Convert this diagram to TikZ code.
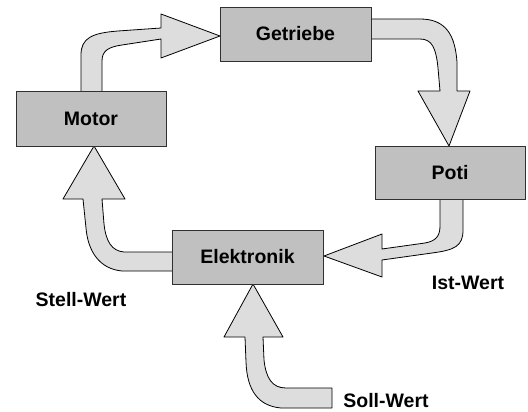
\documentclass[tikz,border=0pt]{standalone}
\usepackage{fontspec}
\setmainfont{Liberation Sans}
\definecolor{boxgray}{HTML}{C0C0C0}
\definecolor{arrowgray}{HTML}{DDDDDD}
\definecolor{edgegray}{HTML}{303030}
\tikzset{
  block/.style={draw=edgegray, line width=0.9pt, fill=boxgray, minimum width=150pt,
    minimum height=54pt, inner sep=0pt, font=\fontsize{19.5}{22}\selectfont\bfseries},
  blockarrow/.style={draw=black, line width=0.8pt, fill=arrowgray, line join=round},
  lbl/.style={font=\fontsize{19.5}{22}\selectfont\bfseries, inner sep=0pt}
}
\begin{document}
\begin{tikzpicture}[x=1pt,y=-1pt]
\useasboundingbox (0,0) rectangle (528,412);
\fill[white] (0,0) rectangle (528,412);

% tips of the broad arrows
\coordinate (tipA) at (220,36);
\coordinate (tipB) at (449,146);
\coordinate (tipC) at (324,256);
\coordinate (tipD) at (94,146);
\coordinate (tipE) at (253,284);

% Motor -> Getriebe
\draw[blockarrow] (81,93) -- (81,55) .. controls (81,38) and (92,33) .. (118,31)
  -- (161,28) -- (161,14) -- (tipA) -- (161,58) -- (161,39) -- (122,45)
  .. controls (108,47) and (102,51) .. (102,61) -- (102,93) -- cycle;
% Getriebe -> Poti
\draw[blockarrow] (369,19) -- (420,19) .. controls (446,19) and (455,35) .. (457,62)
  -- (457,91) -- (470,91) -- (tipB) -- (418,91) -- (440,91) -- (438,68)
  .. controls (436,48) and (432,39) .. (420,39) -- (369,39) -- cycle;
% Poti -> Elektronik
\draw[blockarrow] (463,197) -- (463,230) .. controls (463,246) and (455,250) .. (432,253)
  -- (382,260) -- (382,277) -- (tipC) -- (382,234) -- (382,249) -- (425,243)
  .. controls (436,241) and (440,236) .. (440,226) -- (440,197) -- cycle;
% Elektronik -> Motor
\draw[blockarrow] (174,271) -- (122,271) .. controls (100,269) and (88,252) .. (86,228)
  -- (83,199) -- (63,199) -- (tipD) -- (125,199) -- (102,199) -- (104,224)
  .. controls (106,242) and (112,251) .. (124,252) -- (174,252) -- cycle;
% Soll-Wert -> Elektronik
\draw[blockarrow] (332,408) -- (281,408) .. controls (258,406) and (247,390) .. (246,362)
  -- (245,337) -- (224,337) -- (tipE) -- (283,337) -- (263,337) -- (264,360)
  .. controls (266,378) and (272,388) .. (286,388) -- (332,388) -- cycle;

% blocks
\node[block, minimum width=150pt, minimum height=55pt] (motor) at (91,118.5) {Motor};
\node[block, minimum width=151pt] (getriebe) at (295.5,34) {Getriebe};
\node[block, minimum height=53pt] (poti) at (450,172.5) {Poti};
\node[block, minimum width=151pt] (elektronik) at (247.5,257) {Elektronik};

% signal names
\node[lbl] (stell) at (81,300) {Stell-Wert};
\node[lbl] (ist) at (468,283) {Ist-Wert};
\node[lbl] (soll) at (386,401) {Soll-Wert};
\end{tikzpicture}
\end{document}
